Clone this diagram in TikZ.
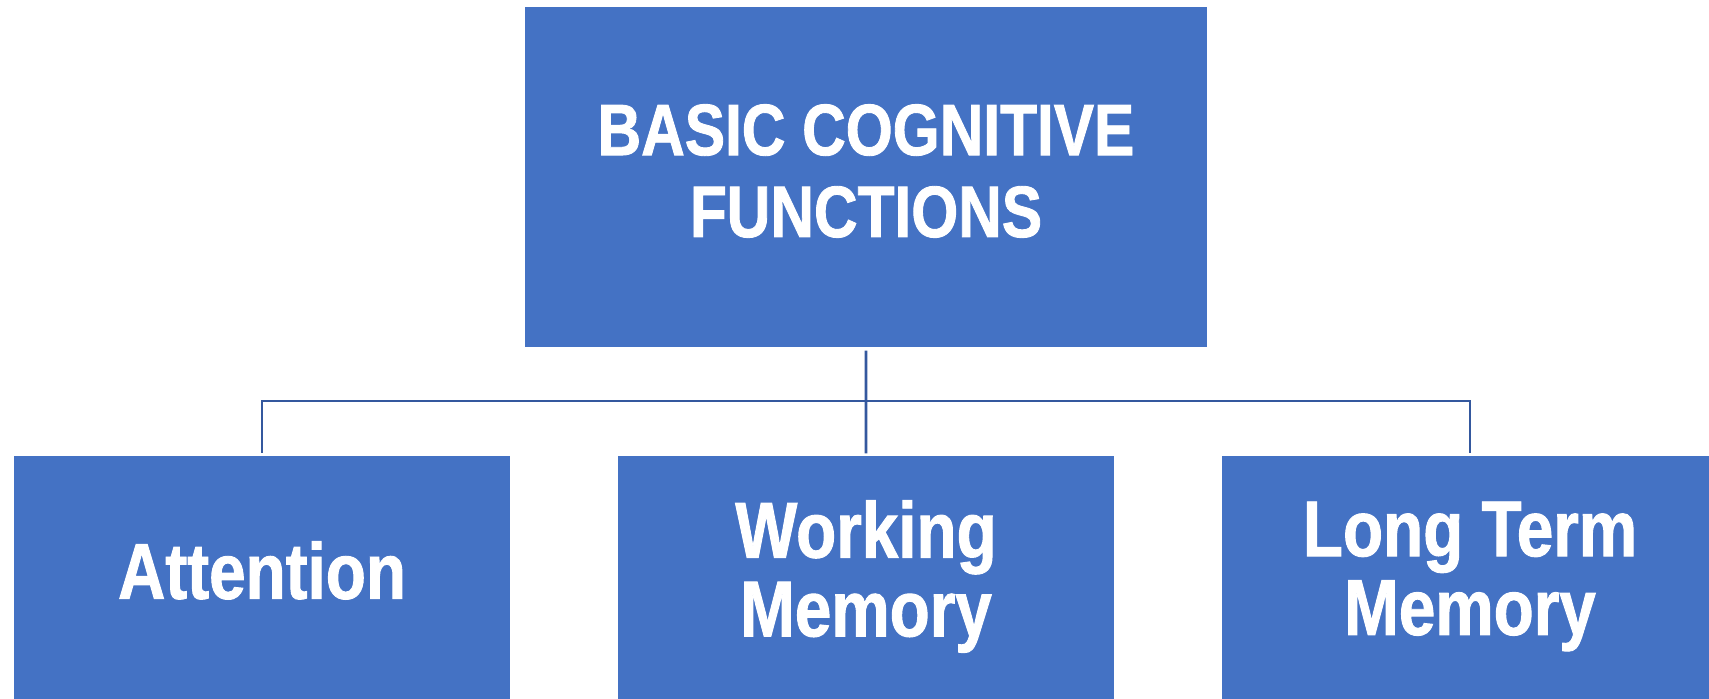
\documentclass[tikz,border=0pt]{standalone}
\usepackage{fontspec}
\newfontfamily\boxfont{Liberation Sans}[FakeStretch=0.83, FakeBold=1.2]
\usepackage{tikz}
\usetikzlibrary{arrows}
\definecolor{boxblue}{RGB}{68,114,196}
\definecolor{lineblue}{RGB}{52,88,158}

\begin{document}
\begin{tikzpicture}[node distance=6.04cm,
    box/.style={rectangle, fill=boxblue, draw=none,
                minimum width=4.96cm, minimum height=2.43cm, inner sep=0pt},
    lbl/.style={text=white, align=center, inner sep=0pt,
                font=\boxfont\bfseries\fontsize{22.5}{22.4}\selectfont},
    conn/.style={draw=lineblue, line width=0.8pt}]
                \useasboundingbox (0,0) rectangle (17.09,-6.99);
                \node[box, minimum width=6.82cm, minimum height=3.40cm]
                      (top) at (8.66,-1.77) {};
                \node[box] (att) at (2.62,-5.775) {};
                \node[box] (wm) [right of = att] {};
                \node[box] (ltm) [right of = wm] {};
                % texts
                \node[lbl, font=\boxfont\bfseries\fontsize{20.7}{23.3}\selectfont]
                      (topT) at ([yshift=0.06cm]top.center) {BASIC COGNITIVE\\FUNCTIONS};
                \node[lbl] (attT) at ([yshift=0.07cm]att.center) {Attention};
                \node[lbl] (wmT) at ([yshift=0.01cm]wm.center) {Working\\Memory};
                \node[lbl] (ltmT) at ([yshift=0.01cm]ltm.center) {Long Term\\Memory};
                % connectors
                \coordinate (bus) at (8.66,-4.01);
                \draw[conn, shorten <=0.03cm, shorten >=0.02cm] (top.south) -- (wm.north);
                \draw[conn, shorten >=0.02cm] (bus) -| (att.north);
                \draw[conn, shorten >=0.02cm] (bus) -| (ltm.north);
            \end{tikzpicture}
\end{document}
